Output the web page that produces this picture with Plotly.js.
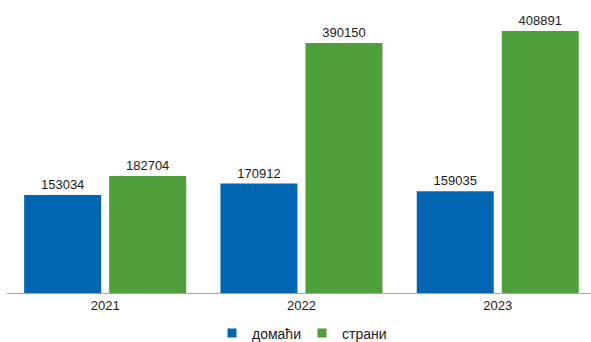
<!DOCTYPE html>
<html><head><meta charset="utf-8">
<script src="https://cdn.plot.ly/plotly-3.0.1.min.js"></script>
<style>html,body{margin:0;padding:0;background:#fff}#c{width:591px;height:342px}</style>
</head><body><div id="c"></div>
<script>
const categories = ['2021', '2022', '2023'];
const domestic = [153034, 170912, 159035];
const foreign = [182704, 390150, 408891];
const seriesNames = ['домаћи', 'страни'];
const colors = ['#0066b2', '#4ea03a'];

const font = {family: 'Liberation Sans, Arial, sans-serif', size: 13, color: '#1a1a1a'};
const traces = [
  {type: 'bar', name: seriesNames[0], x: categories, y: domestic, marker: {color: colors[0]},
   text: domestic.map(String), textposition: 'outside', cliponaxis: false, textfont: font, showlegend: false},
  {type: 'bar', name: seriesNames[1], x: categories, y: foreign, marker: {color: colors[1]},
   text: foreign.map(String), textposition: 'outside', cliponaxis: false, textfont: font, showlegend: false},
  {type: 'scatter', mode: 'markers', name: seriesNames[0], x: [null], y: [null],
   marker: {symbol: 'square', size: 9, color: colors[0]}, showlegend: true},
  {type: 'scatter', mode: 'markers', name: seriesNames[1], x: [null], y: [null],
   marker: {symbol: 'square', size: 9, color: colors[1]}, showlegend: true}
];
const layout = {
  width: 591, height: 342,
  margin: {l: 7, r: 0, t: 24, b: 49, autoexpand: false},
  barmode: 'group', bargap: 0.134, bargroupgap: 0.094,
  font: font,
  paper_bgcolor: '#fff', plot_bgcolor: '#fff',
  showlegend: true,
  legend: {orientation: 'h', x: 0.511, xanchor: 'center', xref: 'container', yref: 'container', y: 0.025, yanchor: 'middle',
           font: Object.assign({}, font, {size: 14}), itemwidth: 30, tracegroupgap: 0, entrywidth: 45, entrywidthmode: 'pixels'},
  xaxis: {type: 'category', range: [-0.5, 2.475], showline: true, linecolor: '#a6a6a6', linewidth: 1, ticks: '', showgrid: false, tickfont: font, automargin: false},
  yaxis: {range: [0, 420000], visible: false, showgrid: false, zeroline: false, automargin: false}
};
Plotly.newPlot('c', traces, layout, {displayModeBar: false, staticPlot: true});
</script></body></html>
